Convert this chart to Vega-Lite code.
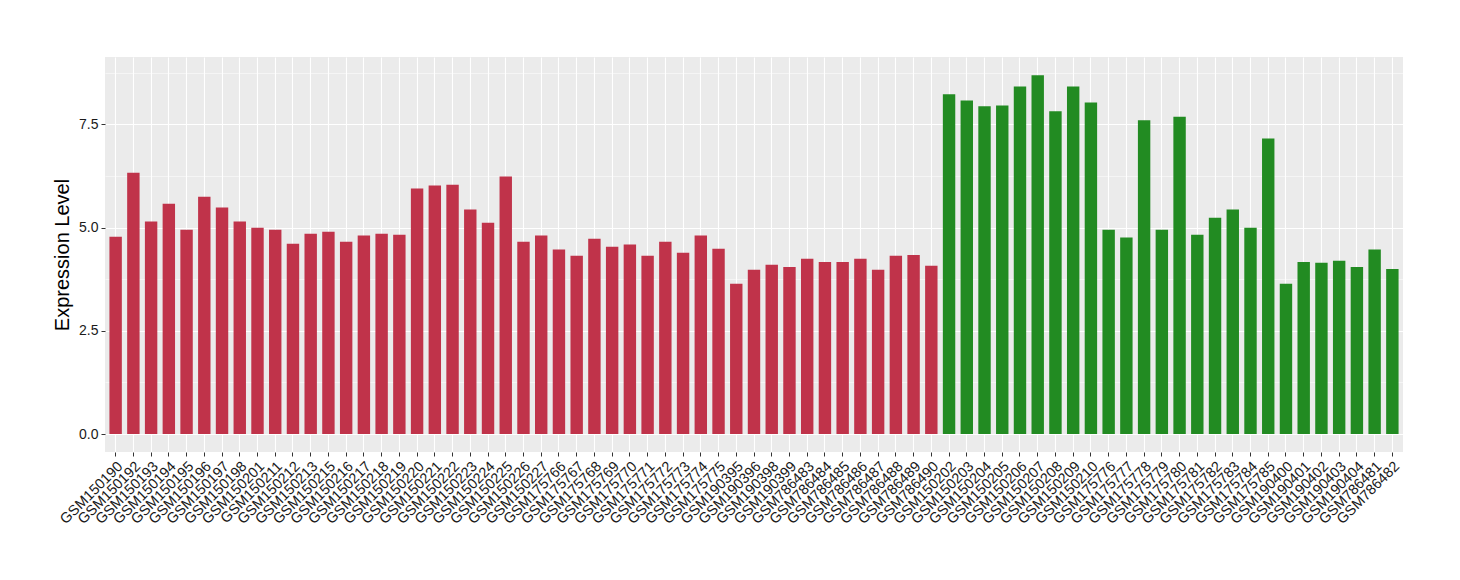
{
  "$schema": "https://vega.github.io/schema/vega-lite/v6.json",
  "autosize": "none",
  "width": 1298,
  "height": 395,
  "padding": {"left": 105, "top": 57, "right": 57, "bottom": 128},
  "background": "white",
  "config": {
    "view": {"fill": "#EBEBEB", "stroke": null},
    "font": "Liberation Sans"
  },
  "data": {
    "values": [
      {"sample": "GSM150190", "value": 4.78, "group": "A"},
      {"sample": "GSM150192", "value": 6.33, "group": "A"},
      {"sample": "GSM150193", "value": 5.15, "group": "A"},
      {"sample": "GSM150194", "value": 5.58, "group": "A"},
      {"sample": "GSM150195", "value": 4.95, "group": "A"},
      {"sample": "GSM150196", "value": 5.75, "group": "A"},
      {"sample": "GSM150197", "value": 5.49, "group": "A"},
      {"sample": "GSM150198", "value": 5.15, "group": "A"},
      {"sample": "GSM150201", "value": 5.0, "group": "A"},
      {"sample": "GSM150211", "value": 4.95, "group": "A"},
      {"sample": "GSM150212", "value": 4.61, "group": "A"},
      {"sample": "GSM150213", "value": 4.85, "group": "A"},
      {"sample": "GSM150215", "value": 4.9, "group": "A"},
      {"sample": "GSM150216", "value": 4.66, "group": "A"},
      {"sample": "GSM150217", "value": 4.81, "group": "A"},
      {"sample": "GSM150218", "value": 4.85, "group": "A"},
      {"sample": "GSM150219", "value": 4.83, "group": "A"},
      {"sample": "GSM150220", "value": 5.95, "group": "A"},
      {"sample": "GSM150221", "value": 6.02, "group": "A"},
      {"sample": "GSM150222", "value": 6.04, "group": "A"},
      {"sample": "GSM150223", "value": 5.44, "group": "A"},
      {"sample": "GSM150224", "value": 5.12, "group": "A"},
      {"sample": "GSM150225", "value": 6.24, "group": "A"},
      {"sample": "GSM150226", "value": 4.66, "group": "A"},
      {"sample": "GSM150227", "value": 4.81, "group": "A"},
      {"sample": "GSM175766", "value": 4.47, "group": "A"},
      {"sample": "GSM175767", "value": 4.32, "group": "A"},
      {"sample": "GSM175768", "value": 4.73, "group": "A"},
      {"sample": "GSM175769", "value": 4.54, "group": "A"},
      {"sample": "GSM175770", "value": 4.59, "group": "A"},
      {"sample": "GSM175771", "value": 4.32, "group": "A"},
      {"sample": "GSM175772", "value": 4.66, "group": "A"},
      {"sample": "GSM175773", "value": 4.39, "group": "A"},
      {"sample": "GSM175774", "value": 4.81, "group": "A"},
      {"sample": "GSM175775", "value": 4.49, "group": "A"},
      {"sample": "GSM190395", "value": 3.64, "group": "A"},
      {"sample": "GSM190396", "value": 3.98, "group": "A"},
      {"sample": "GSM190398", "value": 4.1, "group": "A"},
      {"sample": "GSM190399", "value": 4.05, "group": "A"},
      {"sample": "GSM786483", "value": 4.25, "group": "A"},
      {"sample": "GSM786484", "value": 4.17, "group": "A"},
      {"sample": "GSM786485", "value": 4.17, "group": "A"},
      {"sample": "GSM786486", "value": 4.25, "group": "A"},
      {"sample": "GSM786487", "value": 3.98, "group": "A"},
      {"sample": "GSM786488", "value": 4.32, "group": "A"},
      {"sample": "GSM786489", "value": 4.34, "group": "A"},
      {"sample": "GSM786490", "value": 4.08, "group": "A"},
      {"sample": "GSM150202", "value": 8.23, "group": "B"},
      {"sample": "GSM150203", "value": 8.08, "group": "B"},
      {"sample": "GSM150204", "value": 7.94, "group": "B"},
      {"sample": "GSM150205", "value": 7.96, "group": "B"},
      {"sample": "GSM150206", "value": 8.42, "group": "B"},
      {"sample": "GSM150207", "value": 8.69, "group": "B"},
      {"sample": "GSM150208", "value": 7.82, "group": "B"},
      {"sample": "GSM150209", "value": 8.42, "group": "B"},
      {"sample": "GSM150210", "value": 8.03, "group": "B"},
      {"sample": "GSM175776", "value": 4.95, "group": "B"},
      {"sample": "GSM175777", "value": 4.76, "group": "B"},
      {"sample": "GSM175778", "value": 7.6, "group": "B"},
      {"sample": "GSM175779", "value": 4.95, "group": "B"},
      {"sample": "GSM175780", "value": 7.69, "group": "B"},
      {"sample": "GSM175781", "value": 4.83, "group": "B"},
      {"sample": "GSM175782", "value": 5.24, "group": "B"},
      {"sample": "GSM175783", "value": 5.44, "group": "B"},
      {"sample": "GSM175784", "value": 5.0, "group": "B"},
      {"sample": "GSM175785", "value": 7.16, "group": "B"},
      {"sample": "GSM190400", "value": 3.64, "group": "B"},
      {"sample": "GSM190401", "value": 4.17, "group": "B"},
      {"sample": "GSM190402", "value": 4.15, "group": "B"},
      {"sample": "GSM190403", "value": 4.2, "group": "B"},
      {"sample": "GSM190404", "value": 4.05, "group": "B"},
      {"sample": "GSM786481", "value": 4.47, "group": "B"},
      {"sample": "GSM786482", "value": 4.0, "group": "B"}
    ]
  },
  "mark": {"type": "bar"},
  "encoding": {
    "x": {
      "field": "sample",
      "type": "nominal",
      "sort": null,
      "scale": {"paddingInner": 0.3, "paddingOuter": 0.25},
      "axis": {
        "title": null,
        "labelAngle": -45,
        "labelAlign": "right",
        "labelBaseline": "top",
        "labelFontSize": 14.5,
        "labelColor": "#1a1a1a",
        "labelPadding": 3,
        "tickColor": "#333333",
        "tickSize": 4,
        "domain": false,
        "grid": true,
        "gridColor": "white",
        "gridWidth": 1.1
      }
    },
    "y": {
      "field": "value",
      "type": "quantitative",
      "scale": {"domain": [-0.435, 9.135], "nice": false, "zero": false},
      "axis": {
        "title": "Expression Level",
        "titleFontSize": 20,
        "titleFontWeight": "normal",
        "titleColor": "black",
        "titlePadding": 6,
        "values": [0, 1.25, 2.5, 3.75, 5, 6.25, 7.5, 8.75],
        "labelExpr": "datum.value % 2.5 === 0 ? format(datum.value, '.1f') : ''",
        "labelFontSize": 14,
        "labelColor": "#1a1a1a",
        "labelPadding": 3,
        "tickColor": "#333333",
        "tickSize": 4,
        "tickOpacity": {"condition": {"test": "datum.value % 2.5 === 0", "value": 1}, "value": 0},
        "domain": false,
        "grid": true,
        "gridColor": "white",
        "gridWidth": {"condition": {"test": "datum.value % 2.5 === 0", "value": 1.1}, "value": 0.5}
      }
    },
    "color": {
      "field": "group",
      "type": "nominal",
      "scale": {"domain": ["A", "B"], "range": ["#C0334A", "#228B22"]},
      "legend": null
    }
  }
}
